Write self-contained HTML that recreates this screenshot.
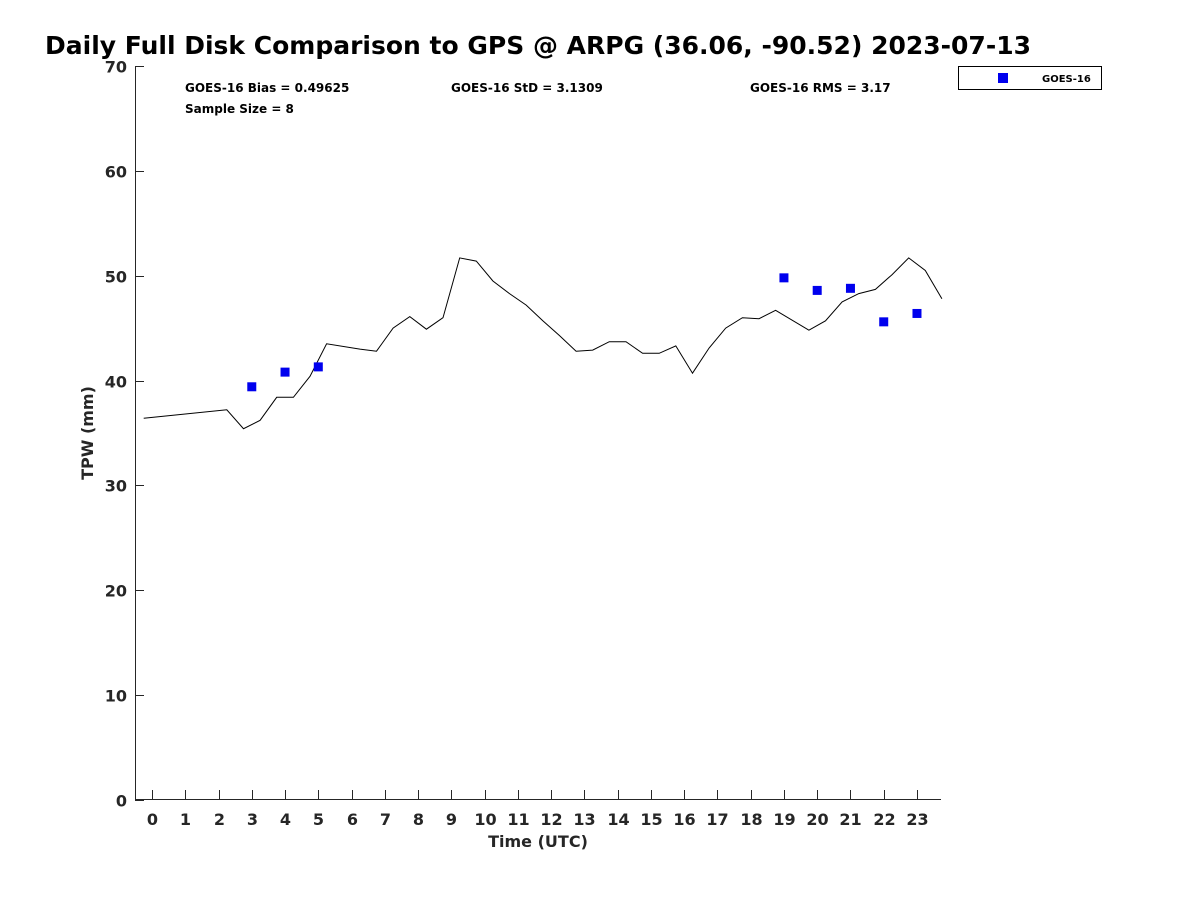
<!DOCTYPE html>
<html><head><meta charset="utf-8"><style>
html,body{margin:0;padding:0;background:#fff;}
svg{display:block;font-family:"DejaVu Sans","Liberation Sans",sans-serif;}
</style></head><body>
<svg id="chart" width="1200" height="900">
<text x="45" y="54" font-size="25" font-weight="bold" fill="#000">Daily Full Disk Comparison to GPS @ ARPG (36.06, -90.52) 2023-07-13</text>
<g font-size="12" font-weight="bold" fill="#000">
<text x="185" y="92">GOES-16 Bias = 0.49625</text>
<text x="451" y="92">GOES-16 StD = 3.1309</text>
<text x="750" y="92">GOES-16 RMS = 3.17</text>
<text x="185" y="113">Sample Size = 8</text>
</g>
<g>
<rect x="958.5" y="66.5" width="143" height="23" fill="#fff" stroke="#000" stroke-width="1"/>
<rect x="998" y="73" width="10" height="10" fill="#0000ee"/>
<text x="1042" y="82" font-size="10" font-weight="bold" fill="#000">GOES-16</text>
</g>
<g id="axes"></g>
<g id="marks"></g>
<text x="538" y="847" font-size="16" font-weight="bold" fill="#262626" text-anchor="middle">Time (UTC)</text>
<text transform="translate(93,433) rotate(-90)" font-size="16" font-weight="bold" fill="#262626" text-anchor="middle">TPW (mm)</text>
</svg>
<script>
const gpsHours=[-0.25,2.25,2.75,3.25,3.75,4.25,4.75,5.25,6.25,6.75,7.25,7.75,8.25,8.75,9.25,9.75,10.25,10.75,11.25,11.75,12.25,12.75,13.25,13.75,14.25,14.75,15.25,15.75,16.25,16.75,17.25,17.75,18.25,18.75,19.75,20.25,20.75,21.25,21.75,22.25,22.75,23.25,23.75];
const gpsTPW=[36.4,37.2,35.4,36.2,38.4,38.4,40.4,43.5,43.0,42.8,45.0,46.1,44.9,46.0,51.7,51.4,49.5,48.3,47.2,45.7,44.3,42.8,42.9,43.7,43.7,42.6,42.6,43.3,40.7,43.1,45.0,46.0,45.9,46.7,44.8,45.7,47.5,48.3,48.7,50.1,51.7,50.5,47.8];
const goesHours=[3,4,5,19,20,21,22,23];
const goesTPW=[39.4,40.8,41.3,49.8,48.6,48.8,45.6,46.4];
const xTicks=[0,1,2,3,4,5,6,7,8,9,10,11,12,13,14,15,16,17,18,19,20,21,22,23];
const yTicks=[0,10,20,30,40,50,60,70];
const NS='http://www.w3.org/2000/svg';
const xs=h=>152+(h)*33.26;
const ys=v=>799.5-v*10.475;
const axes=document.getElementById('axes'),marks=document.getElementById('marks');
function mk(t,a,p){const e=document.createElementNS(NS,t);for(const k in a)e.setAttribute(k,a[k]);p.appendChild(e);return e;}
let l=mk('line',{x1:135.5,y1:66,x2:135.5,y2:800,stroke:'#262626','stroke-width':1},axes);


l=mk('line',{x1:135,y1:799.5,x2:941,y2:799.5,stroke:'#262626','stroke-width':1},axes);


xTicks.forEach(t=>{
 const x=Math.round(xs(t))+0.5;
 const tk=mk('line',{x1:x,y1:799,x2:x,y2:790,stroke:'#262626'},axes);
 
 
 const tx=mk('text',{x:x,y:825,'font-size':16,'font-weight':'bold',fill:'#262626','text-anchor':'middle'},axes);
 tx.textContent=t;
 
 
});
yTicks.forEach(t=>{
 const y=Math.round(ys(t))+0.5;
 const tk=mk('line',{x1:135,y1:y,x2:144,y2:y,stroke:'#262626'},axes);
 
 
 const tx=mk('text',{x:127,y:y+6,'font-size':16,'font-weight':'bold',fill:'#262626','text-anchor':'end'},axes);
 tx.textContent=t;
 
 
});
const pts=gpsHours.map((h,i)=>xs(h).toFixed(1)+','+ys(gpsTPW[i]).toFixed(1)).join(' ');
const pl=mk('polyline',{points:pts,fill:'none',stroke:'#000','stroke-width':1},marks);


goesHours.forEach((h,i)=>{
 const r=mk('rect',{x:xs(h)-4.5,y:ys(goesTPW[i])-4.5,width:9,height:9,fill:'#0000ee'},marks);
 
 
});
</script>
</body></html>
